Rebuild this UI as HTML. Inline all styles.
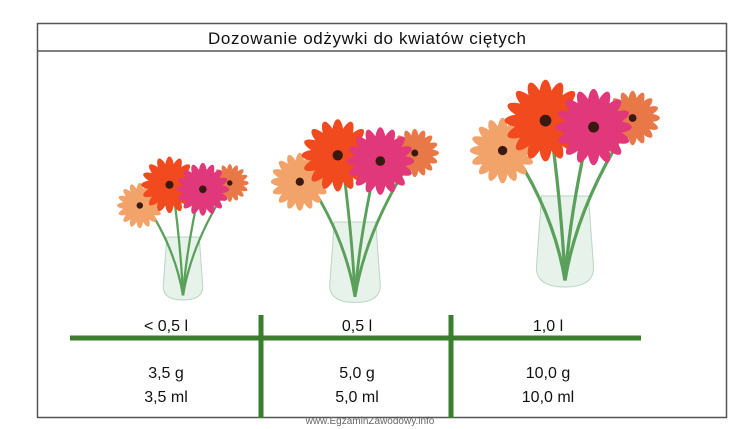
<!DOCTYPE html>
<html><head><meta charset="utf-8"><style>
body{margin:0;background:#fff;width:752px;height:429px;overflow:hidden;font-family:"Liberation Sans",sans-serif;}
svg{position:absolute;left:0;top:0}
</style></head><body>
<svg width="752" height="429">
<rect x="37.5" y="23.5" width="689" height="394" fill="#fff" stroke="#555" stroke-width="1.5"/>
<line x1="37" y1="51" x2="727" y2="51" stroke="#555" stroke-width="1.5"/>
<text x="367" y="44" text-anchor="middle" font-size="17" fill="#111" textLength="318">Dozowanie odżywki do kwiatów ciętych</text>
<g id="bouquets"></g>
<rect x="70" y="335.5" width="571" height="5" fill="#3a7d2c"/>
<rect x="258.5" y="315" width="5" height="103" fill="#3a7d2c"/>
<rect x="448.5" y="315" width="5" height="103" fill="#3a7d2c"/>
<g font-size="16" fill="#111" text-anchor="middle">
<text x="166" y="331">&lt; 0,5 l</text>
<text x="357" y="331">0,5 l</text>
<text x="548" y="331">1,0 l</text>
<text x="166" y="378">3,5 g</text>
<text x="166" y="402">3,5 ml</text>
<text x="357" y="378">5,0 g</text>
<text x="357" y="402">5,0 ml</text>
<text x="548" y="378">10,0 g</text>
<text x="548" y="402">10,0 ml</text>
</g>
<text x="370" y="424" text-anchor="middle" font-size="10" fill="#666">www.EgzaminZawodowy.info</text>
</svg>
<script>
const NS="http://www.w3.org/2000/svg";
const g=document.getElementById('bouquets');
function el(t,a,p){const e=document.createElementNS(NS,t);for(const k in a)e.setAttribute(k,a[k]);(p||g).appendChild(e);return e;}
function flower(cx,cy,r,col,p){
  for(let i=0;i<16;i++){const a=i*Math.PI/8;el('ellipse',{cx:cx+Math.cos(a)*r*0.55,cy:cy+Math.sin(a)*r*0.55,rx:r*0.5,ry:r*0.17,fill:col,transform:`rotate(${a*180/Math.PI} ${cx+Math.cos(a)*r*0.55} ${cy+Math.sin(a)*r*0.55})`},p);}
  el('circle',{cx,cy,r:r*0.28,fill:col},p);
  el('circle',{cx,cy,r:r*0.15,fill:'#3a1a10'},p);
}
function bouquet(name,cx,top,s){
  const b=el('g',{});
  
  
  const vb=top+150*s;
  el('path',{d:`M${cx-18*s} ${vb-70*s} L${cx+18*s} ${vb-70*s} L${cx+22*s} ${vb-15*s} Q${cx+22*s} ${vb} ${cx} ${vb} Q${cx-22*s} ${vb} ${cx-22*s} ${vb-15*s} Z`,fill:'#e6f2ea',stroke:'#b9d6c2','stroke-width':1},b);
  [[-45,28],[-12,10],[20,12],[45,22]].forEach(([dx,dy])=>{
    el('path',{d:`M${cx} ${vb-5*s} Q${cx+dx*0.2*s} ${vb-60*s} ${cx+dx*s} ${top+dy*s+10*s}`,stroke:'#5aa05a','stroke-width':2.5*s,fill:'none'},b);
  });
  flower(cx-48*s,top+45*s,24*s,'#f2a36a',b);
  flower(cx+52*s,top+20*s,20*s,'#e87848',b);
  flower(cx-15*s,top+22*s,30*s,'#f04a1e',b);
  flower(cx+22*s,top+27*s,28*s,'#e0387a',b);
}
bouquet('bouquet-small',183,165,0.9);
bouquet('bouquet-medium',355,130,1.15);
bouquet('bouquet-large',565,92,1.3);
</script>
</body></html>
